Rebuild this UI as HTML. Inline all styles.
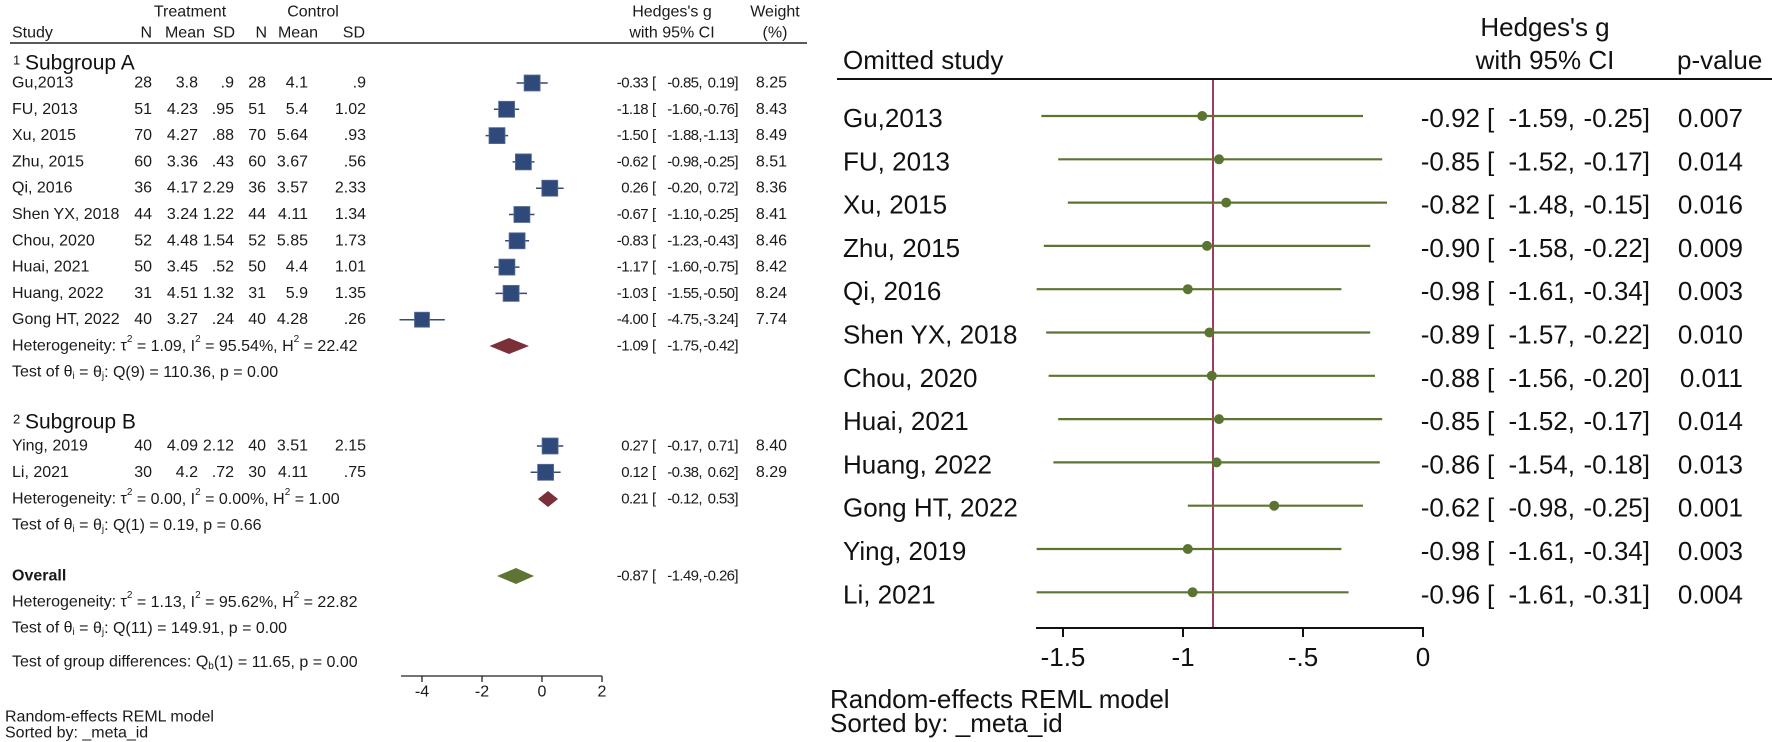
<!DOCTYPE html>
<html><head><meta charset="utf-8"><style>
html,body{margin:0;padding:0;background:#fff;}
svg{display:block;font-family:"Liberation Sans",Arial,sans-serif;}
.l{font-size:16px;fill:#1a1a1a;}
.c{font-size:15px;letter-spacing:-0.6px;}
.r{font-size:26px;fill:#111;}
.e{text-anchor:end}
.m{text-anchor:middle}
</style></head><body>
<svg width="1772" height="742" viewBox="0 0 1772 742" xmlns="http://www.w3.org/2000/svg" dominant-baseline="central">
<!-- LEFT PANEL HEADERS -->
<g class="l">
<text x="190" y="12" class="m">Treatment</text>
<text x="313" y="12" class="m">Control</text>
<text x="12" y="33">Study</text>
<text x="152" y="33" class="e">N</text>
<text x="205" y="33" class="e">Mean</text>
<text x="235" y="33" class="e">SD</text>
<text x="267" y="33" class="e">N</text>
<text x="318" y="33" class="e">Mean</text>
<text x="365" y="33" class="e">SD</text>
<text x="672" y="12" class="m">Hedges's g</text>
<text x="672" y="33" class="m">with 95% CI</text>
<text x="775" y="12" class="m">Weight</text>
<text x="775" y="33" class="m">(%)</text>
</g>
<line x1="10" y1="43" x2="807" y2="43" stroke="#222" stroke-width="1.6"/>

<text x="13" y="60" style="font-size:13px" fill="#111">1</text>
<text x="25" y="63" style="font-size:21px" fill="#111">Subgroup A</text>

<g class="l">
<g transform="translate(0,83)"><text x="12" y="0">Gu,2013</text><text x="152" class="e">28</text><text x="198" class="e">3.8</text><text x="234" class="e">.9</text><text x="266" class="e">28</text><text x="308" class="e">4.1</text><text x="366" class="e">.9</text><g class="c"><text x="648" class="e">-0.33</text><text x="652">[</text><text x="702" class="e">-0.85,</text><text x="738" class="e">0.19]</text></g><text x="787" class="e">8.25</text></g>
<g transform="translate(0,109.3)"><text x="12">FU, 2013</text><text x="152" class="e">51</text><text x="198" class="e">4.23</text><text x="234" class="e">.95</text><text x="266" class="e">51</text><text x="308" class="e">5.4</text><text x="366" class="e">1.02</text><g class="c"><text x="648" class="e">-1.18</text><text x="652">[</text><text x="702" class="e">-1.60,</text><text x="738" class="e">-0.76]</text></g><text x="787" class="e">8.43</text></g>
<g transform="translate(0,135.6)"><text x="12">Xu, 2015</text><text x="152" class="e">70</text><text x="198" class="e">4.27</text><text x="234" class="e">.88</text><text x="266" class="e">70</text><text x="308" class="e">5.64</text><text x="366" class="e">.93</text><g class="c"><text x="648" class="e">-1.50</text><text x="652">[</text><text x="702" class="e">-1.88,</text><text x="738" class="e">-1.13]</text></g><text x="787" class="e">8.49</text></g>
<g transform="translate(0,161.9)"><text x="12">Zhu, 2015</text><text x="152" class="e">60</text><text x="198" class="e">3.36</text><text x="234" class="e">.43</text><text x="266" class="e">60</text><text x="308" class="e">3.67</text><text x="366" class="e">.56</text><g class="c"><text x="648" class="e">-0.62</text><text x="652">[</text><text x="702" class="e">-0.98,</text><text x="738" class="e">-0.25]</text></g><text x="787" class="e">8.51</text></g>
<g transform="translate(0,188.2)"><text x="12">Qi, 2016</text><text x="152" class="e">36</text><text x="198" class="e">4.17</text><text x="234" class="e">2.29</text><text x="266" class="e">36</text><text x="308" class="e">3.57</text><text x="366" class="e">2.33</text><g class="c"><text x="648" class="e">0.26</text><text x="652">[</text><text x="702" class="e">-0.20,</text><text x="738" class="e">0.72]</text></g><text x="787" class="e">8.36</text></g>
<g transform="translate(0,214.5)"><text x="12">Shen YX, 2018</text><text x="152" class="e">44</text><text x="198" class="e">3.24</text><text x="234" class="e">1.22</text><text x="266" class="e">44</text><text x="308" class="e">4.11</text><text x="366" class="e">1.34</text><g class="c"><text x="648" class="e">-0.67</text><text x="652">[</text><text x="702" class="e">-1.10,</text><text x="738" class="e">-0.25]</text></g><text x="787" class="e">8.41</text></g>
<g transform="translate(0,240.8)"><text x="12">Chou, 2020</text><text x="152" class="e">52</text><text x="198" class="e">4.48</text><text x="234" class="e">1.54</text><text x="266" class="e">52</text><text x="308" class="e">5.85</text><text x="366" class="e">1.73</text><g class="c"><text x="648" class="e">-0.83</text><text x="652">[</text><text x="702" class="e">-1.23,</text><text x="738" class="e">-0.43]</text></g><text x="787" class="e">8.46</text></g>
<g transform="translate(0,267.1)"><text x="12">Huai, 2021</text><text x="152" class="e">50</text><text x="198" class="e">3.45</text><text x="234" class="e">.52</text><text x="266" class="e">50</text><text x="308" class="e">4.4</text><text x="366" class="e">1.01</text><g class="c"><text x="648" class="e">-1.17</text><text x="652">[</text><text x="702" class="e">-1.60,</text><text x="738" class="e">-0.75]</text></g><text x="787" class="e">8.42</text></g>
<g transform="translate(0,293.4)"><text x="12">Huang, 2022</text><text x="152" class="e">31</text><text x="198" class="e">4.51</text><text x="234" class="e">1.32</text><text x="266" class="e">31</text><text x="308" class="e">5.9</text><text x="366" class="e">1.35</text><g class="c"><text x="648" class="e">-1.03</text><text x="652">[</text><text x="702" class="e">-1.55,</text><text x="738" class="e">-0.50]</text></g><text x="787" class="e">8.24</text></g>
<g transform="translate(0,319.7)"><text x="12">Gong HT, 2022</text><text x="152" class="e">40</text><text x="198" class="e">3.27</text><text x="234" class="e">.24</text><text x="266" class="e">40</text><text x="308" class="e">4.28</text><text x="366" class="e">.26</text><g class="c"><text x="648" class="e">-4.00</text><text x="652">[</text><text x="702" class="e">-4.75,</text><text x="738" class="e">-3.24]</text></g><text x="787" class="e">7.74</text></g>

<text x="12" y="346">Heterogeneity: τ<tspan dy="-7" font-size="10">2</tspan><tspan dy="7"> = 1.09, I</tspan><tspan dy="-7" font-size="10">2</tspan><tspan dy="7"> = 95.54%, H</tspan><tspan dy="-7" font-size="10">2</tspan><tspan dy="7"> = 22.42</tspan></text>
<g class="c"><text x="648" y="346" class="e">-1.09</text><text x="652" y="346">[</text><text x="702" y="346" class="e">-1.75,</text><text x="738" y="346" class="e">-0.42]</text></g>
<text x="12" y="372">Test of θ<tspan dy="4" font-size="10">i</tspan><tspan dy="-4"> = θ</tspan><tspan dy="4" font-size="10">j</tspan><tspan dy="-4">: Q(9) = 110.36, p = 0.00</tspan></text>
</g>

<text x="13" y="419" style="font-size:13px" fill="#111">2</text>
<text x="25" y="422" style="font-size:21px" fill="#111">Subgroup B</text>

<g class="l">
<g transform="translate(0,446)"><text x="12">Ying, 2019</text><text x="152" class="e">40</text><text x="198" class="e">4.09</text><text x="234" class="e">2.12</text><text x="266" class="e">40</text><text x="308" class="e">3.51</text><text x="366" class="e">2.15</text><g class="c"><text x="648" class="e">0.27</text><text x="652">[</text><text x="702" class="e">-0.17,</text><text x="738" class="e">0.71]</text></g><text x="787" class="e">8.40</text></g>
<g transform="translate(0,472.3)"><text x="12">Li, 2021</text><text x="152" class="e">30</text><text x="198" class="e">4.2</text><text x="234" class="e">.72</text><text x="266" class="e">30</text><text x="308" class="e">4.11</text><text x="366" class="e">.75</text><g class="c"><text x="648" class="e">0.12</text><text x="652">[</text><text x="702" class="e">-0.38,</text><text x="738" class="e">0.62]</text></g><text x="787" class="e">8.29</text></g>

<text x="12" y="499">Heterogeneity: τ<tspan dy="-7" font-size="10">2</tspan><tspan dy="7"> = 0.00, I</tspan><tspan dy="-7" font-size="10">2</tspan><tspan dy="7"> = 0.00%, H</tspan><tspan dy="-7" font-size="10">2</tspan><tspan dy="7"> = 1.00</tspan></text>
<g class="c"><text x="648" y="499" class="e">0.21</text><text x="652" y="499">[</text><text x="702" y="499" class="e">-0.12,</text><text x="738" y="499" class="e">0.53]</text></g>
<text x="12" y="525">Test of θ<tspan dy="4" font-size="10">i</tspan><tspan dy="-4"> = θ</tspan><tspan dy="4" font-size="10">j</tspan><tspan dy="-4">: Q(1) = 0.19, p = 0.66</tspan></text>

<text x="12" y="576" font-weight="bold">Overall</text>
<g class="c"><text x="648" y="576" class="e">-0.87</text><text x="652" y="576">[</text><text x="702" y="576" class="e">-1.49,</text><text x="738" y="576" class="e">-0.26]</text></g>
<text x="12" y="602">Heterogeneity: τ<tspan dy="-7" font-size="10">2</tspan><tspan dy="7"> = 1.13, I</tspan><tspan dy="-7" font-size="10">2</tspan><tspan dy="7"> = 95.62%, H</tspan><tspan dy="-7" font-size="10">2</tspan><tspan dy="7"> = 22.82</tspan></text>
<text x="12" y="628">Test of θ<tspan dy="4" font-size="10">i</tspan><tspan dy="-4"> = θ</tspan><tspan dy="4" font-size="10">j</tspan><tspan dy="-4">: Q(11) = 149.91, p = 0.00</tspan></text>
<text x="12" y="662">Test of group differences: Q<tspan dy="4" font-size="10">b</tspan><tspan dy="-4">(1) = 11.65, p = 0.00</tspan></text>

<text x="422" y="692" class="m">-4</text>
<text x="482" y="692" class="m">-2</text>
<text x="542" y="692" class="m">0</text>
<text x="602" y="692" class="m">2</text>
<text x="5" y="717">Random-effects REML model</text>
<text x="5" y="733">Sorted by: _meta_id</text>
</g>

<g stroke="#222" stroke-width="1.3">
<line x1="401" y1="676" x2="602" y2="676"/>
<line x1="422" y1="676" x2="422" y2="682"/>
<line x1="482" y1="676" x2="482" y2="682"/>
<line x1="542" y1="676" x2="542" y2="682"/>
<line x1="602" y1="676" x2="602" y2="682"/>
</g>

<g stroke="#34497a" stroke-width="1.5">
<line x1="516.5" y1="83" x2="547.7" y2="83"/>
<line x1="494" y1="109.3" x2="519.2" y2="109.3"/>
<line x1="485.6" y1="135.6" x2="508.1" y2="135.6"/>
<line x1="512.6" y1="161.9" x2="534.5" y2="161.9"/>
<line x1="536" y1="188.2" x2="563.6" y2="188.2"/>
<line x1="509" y1="214.5" x2="534.5" y2="214.5"/>
<line x1="505.1" y1="240.8" x2="529.1" y2="240.8"/>
<line x1="494" y1="267.1" x2="519.5" y2="267.1"/>
<line x1="495.5" y1="293.4" x2="527" y2="293.4"/>
<line x1="399.5" y1="319.7" x2="444.8" y2="319.7"/>
<line x1="536.9" y1="446" x2="563.3" y2="446"/>
<line x1="530.6" y1="472.3" x2="560.6" y2="472.3"/>
</g>
<g fill="#2f4a7a" stroke="#5a6f96" stroke-width="0.8">
<rect x="524.1" y="75" width="16" height="16"/>
<rect x="498.6" y="101.3" width="16" height="16"/>
<rect x="489" y="127.6" width="16" height="16"/>
<rect x="515.4" y="153.9" width="16" height="16"/>
<rect x="541.8" y="180.2" width="16" height="16"/>
<rect x="513.9" y="206.5" width="16" height="16"/>
<rect x="509.1" y="232.8" width="16" height="16"/>
<rect x="498.9" y="259.1" width="16" height="16"/>
<rect x="503.1" y="285.4" width="16" height="16"/>
<rect x="414.5" y="312.2" width="15" height="15"/>
<rect x="542.1" y="438" width="16" height="16"/>
<rect x="537.6" y="464.3" width="16" height="16"/>
</g>
<polygon points="489.5,346 509,338 529,346 509,354" fill="#7b3039"/>
<polygon points="538,499 548,491 558,499 548,507" fill="#7b3039"/>
<polygon points="497,576 516,568 534,576 516,584" fill="#5f7434"/>

<!-- RIGHT PANEL -->
<g class="r">
<text x="1545" y="27" class="m">Hedges's g</text>
<text x="1545" y="60" class="m">with 95% CI</text>
<text x="843" y="60">Omitted study</text>
<text x="1677" y="60">p-value</text>
</g>
<line x1="837" y1="79" x2="1772" y2="79" stroke="#111" stroke-width="2"/>

<line x1="1213" y1="80" x2="1213" y2="628" stroke="#a33a63" stroke-width="2"/>

<g stroke="#5c7431" stroke-width="2.2">
<line x1="1041.4" y1="116" x2="1363" y2="116"/>
<line x1="1058.2" y1="159.3" x2="1382.2" y2="159.3"/>
<line x1="1067.8" y1="202.6" x2="1387" y2="202.6"/>
<line x1="1043.8" y1="245.9" x2="1370.2" y2="245.9"/>
<line x1="1036.6" y1="289.2" x2="1341.4" y2="289.2"/>
<line x1="1046.2" y1="332.5" x2="1370.2" y2="332.5"/>
<line x1="1048.6" y1="375.8" x2="1375" y2="375.8"/>
<line x1="1058.2" y1="419.1" x2="1382.2" y2="419.1"/>
<line x1="1053.4" y1="462.4" x2="1379.8" y2="462.4"/>
<line x1="1187.8" y1="505.7" x2="1363" y2="505.7"/>
<line x1="1036.6" y1="549" x2="1341.4" y2="549"/>
<line x1="1036.6" y1="592.3" x2="1348.6" y2="592.3"/>
</g>
<g fill="#5c7431">
<circle cx="1202.2" cy="116" r="5"/>
<circle cx="1219" cy="159.3" r="5"/>
<circle cx="1226.2" cy="202.6" r="5"/>
<circle cx="1207" cy="245.9" r="5"/>
<circle cx="1187.8" cy="289.2" r="5"/>
<circle cx="1209.4" cy="332.5" r="5"/>
<circle cx="1211.8" cy="375.8" r="5"/>
<circle cx="1219" cy="419.1" r="5"/>
<circle cx="1216.6" cy="462.4" r="5"/>
<circle cx="1274.2" cy="505.7" r="5"/>
<circle cx="1187.8" cy="549" r="5"/>
<circle cx="1192.6" cy="592.3" r="5"/>
</g>

<g class="r">
<g transform="translate(0,118)"><text x="843">Gu,2013</text><text x="1480" class="e">-0.92</text><text x="1487">[</text><text x="1575" class="e">-1.59,</text><text x="1650" class="e">-0.25]</text><text x="1743" class="e">0.007</text></g>
<g transform="translate(0,161.3)"><text x="843">FU, 2013</text><text x="1480" class="e">-0.85</text><text x="1487">[</text><text x="1575" class="e">-1.52,</text><text x="1650" class="e">-0.17]</text><text x="1743" class="e">0.014</text></g>
<g transform="translate(0,204.6)"><text x="843">Xu, 2015</text><text x="1480" class="e">-0.82</text><text x="1487">[</text><text x="1575" class="e">-1.48,</text><text x="1650" class="e">-0.15]</text><text x="1743" class="e">0.016</text></g>
<g transform="translate(0,247.9)"><text x="843">Zhu, 2015</text><text x="1480" class="e">-0.90</text><text x="1487">[</text><text x="1575" class="e">-1.58,</text><text x="1650" class="e">-0.22]</text><text x="1743" class="e">0.009</text></g>
<g transform="translate(0,291.2)"><text x="843">Qi, 2016</text><text x="1480" class="e">-0.98</text><text x="1487">[</text><text x="1575" class="e">-1.61,</text><text x="1650" class="e">-0.34]</text><text x="1743" class="e">0.003</text></g>
<g transform="translate(0,334.5)"><text x="843">Shen YX, 2018</text><text x="1480" class="e">-0.89</text><text x="1487">[</text><text x="1575" class="e">-1.57,</text><text x="1650" class="e">-0.22]</text><text x="1743" class="e">0.010</text></g>
<g transform="translate(0,377.8)"><text x="843">Chou, 2020</text><text x="1480" class="e">-0.88</text><text x="1487">[</text><text x="1575" class="e">-1.56,</text><text x="1650" class="e">-0.20]</text><text x="1743" class="e">0.011</text></g>
<g transform="translate(0,421.1)"><text x="843">Huai, 2021</text><text x="1480" class="e">-0.85</text><text x="1487">[</text><text x="1575" class="e">-1.52,</text><text x="1650" class="e">-0.17]</text><text x="1743" class="e">0.014</text></g>
<g transform="translate(0,464.4)"><text x="843">Huang, 2022</text><text x="1480" class="e">-0.86</text><text x="1487">[</text><text x="1575" class="e">-1.54,</text><text x="1650" class="e">-0.18]</text><text x="1743" class="e">0.013</text></g>
<g transform="translate(0,507.7)"><text x="843">Gong HT, 2022</text><text x="1480" class="e">-0.62</text><text x="1487">[</text><text x="1575" class="e">-0.98,</text><text x="1650" class="e">-0.25]</text><text x="1743" class="e">0.001</text></g>
<g transform="translate(0,551)"><text x="843">Ying, 2019</text><text x="1480" class="e">-0.98</text><text x="1487">[</text><text x="1575" class="e">-1.61,</text><text x="1650" class="e">-0.34]</text><text x="1743" class="e">0.003</text></g>
<g transform="translate(0,594.3)"><text x="843">Li, 2021</text><text x="1480" class="e">-0.96</text><text x="1487">[</text><text x="1575" class="e">-1.61,</text><text x="1650" class="e">-0.31]</text><text x="1743" class="e">0.004</text></g>

<text x="1063" y="657" class="m">-1.5</text>
<text x="1183" y="657" class="m">-1</text>
<text x="1303" y="657" class="m">-.5</text>
<text x="1423" y="657" class="m">0</text>
<text x="830" y="699">Random-effects REML model</text>
<text x="830" y="723">Sorted by: _meta_id</text>
</g>

<g stroke="#111" stroke-width="2">
<line x1="1036" y1="628" x2="1424" y2="628"/>
<line x1="1063" y1="628" x2="1063" y2="637"/>
<line x1="1183" y1="628" x2="1183" y2="637"/>
<line x1="1303" y1="628" x2="1303" y2="637"/>
<line x1="1423" y1="628" x2="1423" y2="637"/>
</g>
</svg>
</body></html>
